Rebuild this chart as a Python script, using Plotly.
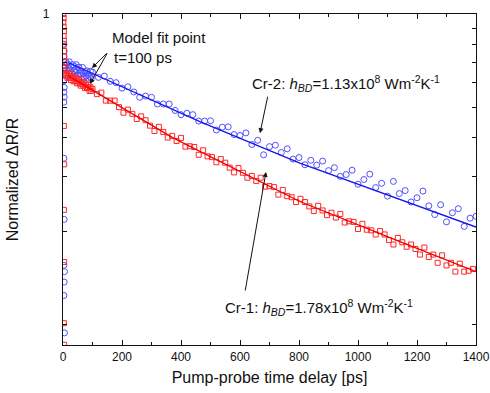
import plotly.graph_objects as go

# ---------------- data ----------------
# Cr-2 (blue circles)
cr2_t = [3, 4, 3, 4, 5, 4, 3, 4, 3, 4, 3,
         3, 4, 3, 5, 4, 3, 5,
         6, 9, 12, 15, 18, 21, 24, 27, 30, 33, 36, 39, 42, 45, 48, 51, 54, 57, 60, 63,
         66, 69, 72, 75, 78, 81, 84, 87, 90, 93, 96,
         100, 120, 140, 160, 180, 200, 220, 240, 260, 280, 300, 320, 340, 360, 380, 400,
         420, 440, 460, 480, 500, 520, 540, 560, 580, 600, 620, 640, 660, 680, 700, 720,
         740, 760, 780, 800, 820, 840, 860, 880, 900, 920, 940, 960, 980, 1000, 1020, 1040,
         1060, 1080, 1100, 1120, 1140, 1160, 1180, 1200, 1220, 1240, 1260, 1280, 1300,
         1320, 1340, 1360, 1380, 1400]
cr2_v = [0.80, 0.76, 0.73, 0.70, 0.67, 0.64, 0.61, 0.58, 0.56, 0.54, 0.52,
         0.343, 0.218, 0.155, 0.148, 0.137, 0.124, 0.094,
         0.684, 0.703, 0.659, 0.692, 0.669, 0.702, 0.658, 0.677, 0.641, 0.687, 0.659, 0.677,
         0.648, 0.687, 0.658, 0.635, 0.674, 0.645, 0.657, 0.635,
         0.673, 0.644, 0.622, 0.653, 0.632, 0.656, 0.621, 0.639, 0.631, 0.654, 0.620,
         0.650, 0.625, 0.631, 0.607, 0.601, 0.577, 0.583, 0.561, 0.539, 0.544, 0.539, 0.513,
         0.513, 0.513, 0.489, 0.474, 0.479, 0.474, 0.452, 0.452, 0.453, 0.423, 0.432, 0.433,
         0.409, 0.406, 0.414, 0.380, 0.392, 0.352, 0.374, 0.378, 0.358, 0.368, 0.341, 0.345,
         0.327, 0.338, 0.326, 0.336, 0.313, 0.320, 0.300, 0.304, 0.314, 0.283, 0.293, 0.305,
         0.276, 0.285, 0.259, 0.289, 0.264, 0.270, 0.248, 0.256, 0.269, 0.241, 0.226, 0.243,
         0.214, 0.229, 0.236, 0.207, 0.220, 0.223]

# Cr-1 (red squares)
cr1_t = [1, 2, 1, 2, 3, 2, 3, 2, 3, 4, 3, 4,
         3, 4, 3, 4, 3, 4,
         6, 9, 12, 15, 18, 21, 24, 27, 30, 33, 36, 39, 42, 45, 48, 51, 54, 57, 60, 63,
         66, 69, 72, 75, 78, 81, 84, 87, 90, 93, 96,
         100, 115, 130, 145, 160, 175, 190, 205, 220, 235, 250, 265, 280, 295, 310, 325,
         340, 355, 370, 385, 400, 415, 430, 445, 460, 475, 490, 505, 520, 535, 550, 565,
         580, 595, 610, 625, 640, 655, 670, 685, 700, 715, 730, 745, 760, 775, 790, 805,
         820, 835, 850, 865, 880, 895, 910, 925, 940, 955, 970, 985, 1000, 1015, 1030,
         1045, 1060, 1075, 1090, 1105, 1120, 1135, 1150, 1165, 1180, 1195, 1210, 1225,
         1240, 1255, 1270, 1285, 1300, 1315, 1330, 1345, 1360, 1375, 1390]
cr1_v = [1.0, 0.97, 0.94, 0.91, 0.88, 0.85, 0.82, 0.79, 0.76, 0.73, 0.70, 0.67,
         0.436, 0.328, 0.234, 0.159, 0.101, 0.086,
         0.656, 0.634, 0.644, 0.623, 0.633, 0.644, 0.623, 0.613, 0.630, 0.622, 0.607, 0.629,
         0.608, 0.618, 0.598, 0.607, 0.617, 0.597, 0.588, 0.604,
         0.596, 0.587, 0.603, 0.577, 0.592, 0.578, 0.582, 0.591, 0.565, 0.581, 0.566,
         0.574, 0.552, 0.558, 0.526, 0.526, 0.526, 0.501, 0.481, 0.492, 0.477, 0.459, 0.468,
         0.455, 0.437, 0.420, 0.433, 0.417, 0.400, 0.405, 0.390, 0.399, 0.374, 0.375, 0.373,
         0.352, 0.364, 0.348, 0.346, 0.333, 0.341, 0.332, 0.320, 0.309, 0.319, 0.308, 0.297,
         0.301, 0.290, 0.297, 0.278, 0.279, 0.277, 0.262, 0.271, 0.259, 0.257, 0.248, 0.254,
         0.248, 0.240, 0.232, 0.241, 0.233, 0.225, 0.229, 0.221, 0.227, 0.213, 0.215, 0.214,
         0.203, 0.211, 0.202, 0.201, 0.195, 0.200, 0.195, 0.187, 0.181, 0.190, 0.184, 0.178,
         0.181, 0.175, 0.168, 0.177, 0.165, 0.168, 0.158, 0.167, 0.155, 0.158, 0.148, 0.157,
         0.148, 0.149, 0.151]

# model fits
fit2_t = [17, 464, 803, 1400]
fit2_v = [0.698, 0.450, 0.331, 0.206]
fit1_t = [17, 91, 373, 803, 1142, 1400]
fit1_v = [0.634, 0.575, 0.399, 0.249, 0.185, 0.148]

x_ticks = [0, 200, 400, 600, 800, 1000, 1200, 1400]
y_ticks = [0.1, 0.2, 0.3, 0.4, 0.5, 0.6, 0.7, 0.8, 0.9, 1.0]
y_ticktext = ["", "", "", "", "", "", "", "", "", "1"]

FONT = "Arial, 'Liberation Sans', sans-serif"
BLUE_M = "rgb(80,80,255)"
BLUE_L = "rgb(20,20,235)"
RED_M = "rgb(255,40,40)"
RED_L = "rgb(240,0,0)"

fig = go.Figure()
fig.add_trace(go.Scatter(x=cr2_t, y=cr2_v, mode="markers", name="Cr-2",
                         marker=dict(symbol="circle-open", size=6, color=BLUE_M,
                                     line=dict(width=1)), cliponaxis=True))
fig.add_trace(go.Scatter(x=fit2_t, y=fit2_v, mode="lines", name="Cr-2 fit",
                         line=dict(color=BLUE_L, width=1.3)))
fig.add_trace(go.Scatter(x=cr1_t, y=cr1_v, mode="markers", name="Cr-1",
                         marker=dict(symbol="square-open", size=5, color=RED_M,
                                     line=dict(width=1)), cliponaxis=True))
fig.add_trace(go.Scatter(x=fit1_t, y=fit1_v, mode="lines", name="Cr-1 fit",
                         line=dict(color=RED_L, width=1.3)))

ann_font = dict(family=FONT, size=15, color="#111")
annotations = [
    dict(text="Model fit point", x=0.1138, y=0.930, xref="paper", yref="paper",
         xanchor="left", yanchor="middle", showarrow=False, font=ann_font),
    dict(text="t=100 ps", x=0.119, y=0.870, xref="paper", yref="paper",
         xanchor="left", yanchor="middle", showarrow=False, font=ann_font),
    dict(text="Cr-2: <i>h</i><sub><i>BD</i></sub>=1.13x10<sup>8</sup> Wm<sup>-2</sup>K<sup>-1</sup>",
         x=0.4528, y=0.7915, xref="paper", yref="paper",
         xanchor="left", yanchor="middle", showarrow=False, font=ann_font),
    dict(text="Cr-1: <i>h</i><sub><i>BD</i></sub>=1.78x10<sup>8</sup> Wm<sup>-2</sup>K<sup>-1</sup>",
         x=0.387, y=0.112, xref="paper", yref="paper",
         xanchor="left", yanchor="middle", showarrow=False, font=ann_font),
]
arrow_style = dict(text="", showarrow=True, arrowhead=2, arrowsize=1, arrowwidth=1,
                   arrowcolor="#111", xref="paper", yref="paper", standoff=0)
for tip_x, tip_y, ax, ay in [(0.0702, 0.837, 16, -16), (0.0654, 0.789, 18, -32),
                             (0.477, 0.640, 8, -38), (0.4915, 0.5227, -21, 120)]:
    annotations.append(dict(x=tip_x, y=tip_y, ax=ax, ay=ay, **arrow_style))

fig.update_layout(
    width=490, height=393,
    margin=dict(l=63, r=14, t=14, b=48, autoexpand=False),
    paper_bgcolor="white", plot_bgcolor="white",
    showlegend=False,
    font=dict(family=FONT, size=12, color="#111"),
    annotations=annotations,
    xaxis=dict(range=[0, 1400], tickvals=x_ticks, ticks="inside", ticklen=5,
               tickwidth=1, tickcolor="#111", showline=True, linecolor="#111",
               linewidth=1.2, mirror="ticks", showgrid=False, zeroline=False,
               automargin=False,
               minor=dict(dtick=100, ticks="inside", ticklen=3, tickcolor="#111"),
               tickfont=dict(size=12),
               title=dict(text="Pump-probe time delay [ps]", font=dict(size=16), standoff=9)),
    yaxis=dict(type="log", range=[-1.066, 0], tickvals=y_ticks, ticktext=y_ticktext,
               ticks="inside", ticklen=4, tickwidth=1, tickcolor="#111",
               showline=True, linecolor="#111", linewidth=1.2, mirror="ticks",
               showgrid=False, zeroline=False, tickfont=dict(size=12),
               automargin=False, ticklabelstandoff=10,
               title=dict(text="Normalized ΔR/R", font=dict(size=16), standoff=20)),
)

fig.write_html("out.html")
